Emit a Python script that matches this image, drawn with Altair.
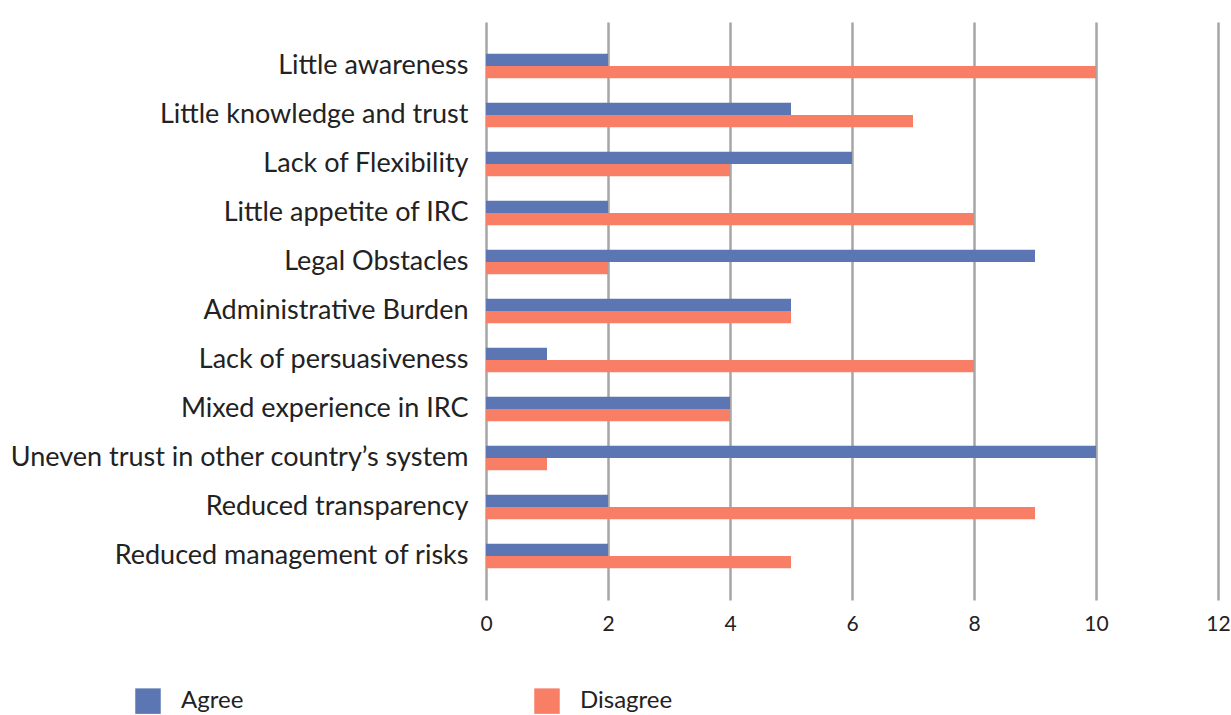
import altair as alt
import pandas as pd

categories = [
    "Little awareness",
    "Little knowledge and trust",
    "Lack of Flexibility",
    "Little appetite of IRC",
    "Legal Obstacles",
    "Administrative Burden",
    "Lack of persuasiveness",
    "Mixed experience in IRC",
    "Uneven trust in other country\u2019s system",
    "Reduced transparency",
    "Reduced management of risks",
]
agree = [2, 5, 6, 2, 9, 5, 1, 4, 10, 2, 2]
disagree = [10, 7, 4, 8, 2, 5, 8, 4, 1, 9, 5]
series = ["Agree", "Disagree"]
colors = ["#5b76b2", "#f87e66"]
x_ticks = [0, 2, 4, 6, 8, 10, 12]

rows = []
for c, a, d in zip(categories, agree, disagree):
    rows.append({"category": c, "series": "Agree", "value": a})
    rows.append({"category": c, "series": "Disagree", "value": d})
df = pd.DataFrame(rows)

FONT = "Lato"

chart = (
    alt.Chart(df)
    .mark_bar()
    .encode(
        x=alt.X(
            "value:Q",
            scale=alt.Scale(domain=[0, 12], nice=False),
            axis=alt.Axis(
                values=x_ticks,
                title=None,
                grid=True,
                gridColor="#a6a6a6",
                gridWidth=2.5,
                domain=False,
                ticks=False,
                labelFlush=False,
                labelPadding=13,
                labelFontSize=21,
                labelColor="#222222",
                labelFont=FONT,
            ),
        ),
        y=alt.Y(
            "category:N",
            sort=categories,
            scale=alt.Scale(paddingInner=0.5, paddingOuter=0.65),
            axis=alt.Axis(
                title=None,
                domain=False,
                ticks=False,
                grid=False,
                labelPadding=18,
                labelFontSize=27,
                labelColor="#222222",
                labelFont=FONT,
                labelLimit=600,
            ),
        ),
        yOffset=alt.YOffset("series:N", sort=series),
        color=alt.Color(
            "series:N",
            sort=series,
            scale=alt.Scale(domain=series, range=colors),
            legend=alt.Legend(
                title=None,
                orient="none",
                legendX=-351,
                legendY=666,
                direction="horizontal",
                columns=2,
                columnPadding=290,
                symbolType="square",
                symbolSize=650,
                symbolStrokeWidth=0,
                labelOffset=20,
                labelFontSize=24,
                labelColor="#222222",
                labelFont=FONT,
            ),
        ),
    )
    .properties(
        width=732,
        height=578,
        padding={"left": 486, "top": 22, "right": 13, "bottom": 115},
        autosize=alt.AutoSizeParams(type="none"),
    )
    .configure_view(stroke=None)
)

chart.save("out.html", embed_options={"renderer": "svg", "actions": False})
